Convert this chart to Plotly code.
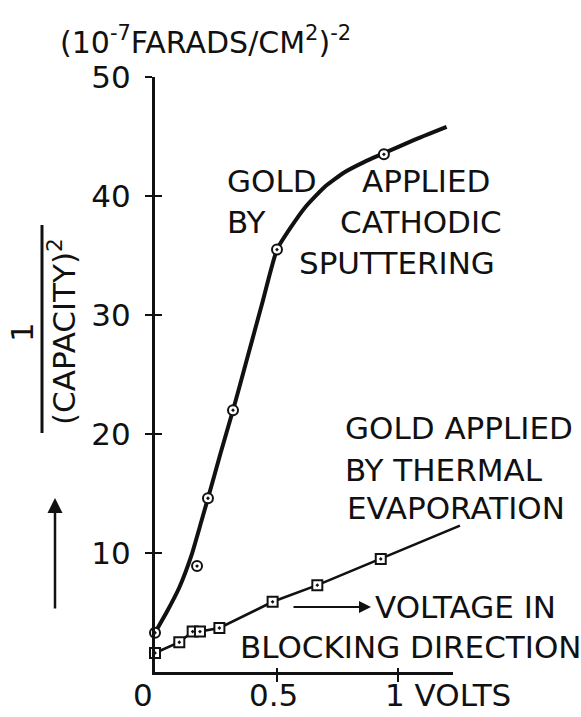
import plotly.graph_objects as go

# Measured points: 1/C^2 (units of (1e-7 F/cm^2)^-2) against bias voltage (V)
sputter_v = [0.0, 0.173, 0.218, 0.321, 0.502, 0.942]
sputter_c = [3.3, 8.9, 14.6, 22.0, 35.5, 43.5]

# Hand-drawn smooth curve through the sputtered-gold points
sputter_curve_v = [0.0, 0.05, 0.10, 0.15, 0.19, 0.218, 0.27, 0.321, 0.38,
                   0.44, 0.502, 0.56, 0.62, 0.70, 0.78, 0.86, 0.942, 1.06, 1.20]
sputter_curve_c = [3.3, 5.1, 7.1, 9.8, 12.6, 14.6, 18.4, 22.0, 26.4,
                   30.9, 35.5, 37.4, 39.1, 40.8, 42.0, 42.85, 43.6, 44.65, 45.8]

thermal_v = [0.0, 0.10, 0.155, 0.185, 0.265, 0.484, 0.668, 0.929]
thermal_c = [1.6, 2.5, 3.4, 3.4, 3.7, 5.9, 7.3, 9.5]
thermal_end_v = 1.255
thermal_end_c = 12.3

y_ticks = [10, 20, 30, 40, 50]
x_ticks = [0.5, 1.0]
x_tick_labels = ["0", "0.5", "1 VOLTS"]

INK = "#111111"
FONT = "DejaVu Sans"
CLEAR = "rgba(0,0,0,0)"

W, H = 581, 717
L, T = 155, 77
PW, PH = 316, 595
X_AXIS_END = 1.226
X_DATA_END = PW / 243.0


def px(x):
    return (x - L) / PW


def py(y):
    return (T + PH - y) / PH


fig = go.Figure()

# empty traces so the extra axes get drawn (added first so they sit underneath)
fig.add_trace(go.Scatter(x=[], y=[], xaxis="x2", yaxis="y", showlegend=False))
fig.add_trace(go.Scatter(x=[], y=[], xaxis="x3", yaxis="y", showlegend=False))
fig.add_trace(go.Scatter(x=[], y=[], xaxis="x", yaxis="y2", showlegend=False))

fig.add_trace(go.Scatter(
    x=sputter_curve_v, y=sputter_curve_c, mode="lines",
    line=dict(color=INK, width=4, shape="spline", smoothing=0.5),
    hoverinfo="skip", showlegend=False, cliponaxis=False))
fig.add_trace(go.Scatter(
    x=sputter_v, y=sputter_c, mode="markers",
    marker=dict(symbol="circle-dot", size=10, color="white",
                line=dict(color=INK, width=2)),
    name="sputtering", showlegend=False, cliponaxis=False))

fig.add_trace(go.Scatter(
    x=thermal_v + [thermal_end_v], y=thermal_c + [thermal_end_c], mode="lines",
    line=dict(color=INK, width=2.6),
    hoverinfo="skip", showlegend=False, cliponaxis=False))
fig.add_trace(go.Scatter(
    x=thermal_v, y=thermal_c, mode="markers",
    marker=dict(symbol="square-dot", size=10, color="white",
                line=dict(color=INK, width=2)),
    name="thermal", showlegend=False, cliponaxis=False))

axis_font = dict(family=FONT, size=31, color=INK)

fig.update_layout(
    width=W, height=H,
    margin=dict(l=L, r=W - L - PW, t=T, b=H - T - PH, pad=0),
    paper_bgcolor="white", plot_bgcolor=CLEAR,
    xaxis=dict(domain=[0, 1], range=[0, X_DATA_END], visible=False, fixedrange=True),
    xaxis2=dict(domain=[0, X_AXIS_END / X_DATA_END], range=[0, X_AXIS_END],
                anchor="y", showline=True, linecolor=INK, linewidth=3,
                showgrid=False, zeroline=False, ticks="outside", ticklen=7,
                tickwidth=2, tickcolor=INK, tickvals=x_ticks, showticklabels=False),
    xaxis3=dict(overlaying="x2", range=[0, X_AXIS_END], anchor="y",
                showline=False, showgrid=False, zeroline=False, ticks="inside",
                ticklen=4, tickwidth=2, tickcolor=INK, tickvals=x_ticks,
                showticklabels=False),
    yaxis=dict(domain=[0, 1], range=[0, 50], anchor="x", showline=True,
               linecolor=INK, linewidth=3, showgrid=False, zeroline=False,
               ticks="outside", ticklen=7, tickwidth=2, tickcolor=INK,
               tickvals=y_ticks, ticktext=[str(v) for v in y_ticks],
               tickfont=axis_font, ticklabelstandoff=8),
    yaxis2=dict(overlaying="y", range=[0, 50], anchor="x", side="left",
                showline=False, showgrid=False, zeroline=False, ticks="inside",
                ticklen=7, tickwidth=2, tickcolor=INK, tickvals=y_ticks,
                showticklabels=False),
    font=dict(family=FONT, color=INK),
)


def label(text, x, y, xanchor="left", size=31, **kw):
    fig.add_annotation(text=text, x=px(x), y=py(y), xref="paper", yref="paper",
                       xanchor=xanchor, yanchor="middle", showarrow=False,
                       font=dict(family=FONT, size=size, color=INK), **kw)


# x tick labels
label(x_tick_labels[0], 143, 695, xanchor="center")
label(x_tick_labels[1], 273, 695, xanchor="center")
label(x_tick_labels[2], 383, 695, xanchor="left")

# unit line above the y axis
label("(10<sup>-7</sup>FARADS/CM<sup>2</sup>)<sup>-2</sup>", 58, 40, size=30)

# curve captions
label("GOLD", 225, 181)
label("APPLIED", 360, 181)
label("BY", 225, 222)
label("CATHODIC", 338, 222)
label("SPUTTERING", 297, 263)

label("GOLD APPLIED", 343, 428)
label("BY THERMAL", 343, 470)
label("EVAPORATION", 345, 508)

label("VOLTAGE IN", 373, 607)
label("BLOCKING DIRECTION", 238, 647)

# y axis quantity: 1 / (CAPACITY)^2, written sideways
label("1", 22, 332, xanchor="center", textangle=-90)
label("(CAPACITY)<sup>2</sup>", 62, 332, xanchor="center", textangle=-90)
fig.add_shape(type="line", xref="paper", yref="paper",
              x0=px(42), x1=px(42), y0=py(225), y1=py(433),
              line=dict(color=INK, width=3))

# direction arrows
fig.add_annotation(x=px(55), y=py(498), xref="paper", yref="paper",
                   ax=0, ay=112, text="", showarrow=True, arrowhead=2,
                   arrowsize=1.2, arrowwidth=2.5, arrowcolor=INK)
fig.add_annotation(x=px(371), y=py(607), xref="paper", yref="paper",
                   ax=-79, ay=0, text="", showarrow=True, arrowhead=2,
                   arrowsize=1.2, arrowwidth=2, arrowcolor=INK)

fig.write_html("out.html")
